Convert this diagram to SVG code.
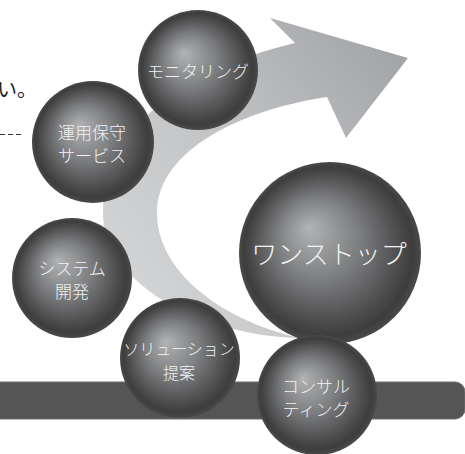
<svg xmlns="http://www.w3.org/2000/svg" width="465" height="454" viewBox="0 0 465 454">
<defs>
<radialGradient id="sph" cx="0.5" cy="0.5" r="0.5" fx="0.38" fy="0.36" fr="0">
<stop offset="0" stop-color="#b2b3b5"/>
<stop offset="0.45" stop-color="#7d7e80"/>
<stop offset="0.82" stop-color="#4b4b4c"/>
<stop offset="0.93" stop-color="#3d3d3d"/>
<stop offset="1" stop-color="#4a4a4a"/>
</radialGradient>
<linearGradient id="arr" x1="100" y1="300" x2="400" y2="60" gradientUnits="userSpaceOnUse">
<stop offset="0" stop-color="#d6d7d9"/>
<stop offset="0.5" stop-color="#c3c4c6"/>
<stop offset="1" stop-color="#a4a5a8"/>
</linearGradient>
<style>
.ball{fill:url(#sph)}
.lbl{font-family:"Noto Sans CJK JP","Noto Sans",sans-serif;font-weight:300;fill:#f2f2f2;text-anchor:middle;dominant-baseline:central}
</style>
</defs>
<rect width="465" height="454" fill="#ffffff"/>
<text x="-3" y="97" font-family="Noto Sans CJK JP, sans-serif" font-size="20" fill="#222">い。</text>
<line x1="0" y1="134.5" x2="21" y2="134.5" stroke="#333" stroke-width="1" stroke-dasharray="5 3"/>
<g id="connectors">
<path d="M300,338 C200,336 100,282 103,210 C106,130 180,70 295,43 L270,18 L408,58 L346,138 L327,97 C240,110 160,150 157,210 C155,270 220,320 300,338 Z" fill="url(#arr)"/>
</g>
<rect x="-10" y="382" width="475" height="37" rx="10" fill="#555556" stroke="#6e6e6e" stroke-width="1"/>
<g id="n-monitoring"><circle class="ball" cx="198" cy="70" r="60"/><text class="lbl" x="198" y="70" font-size="17">モニタリング</text></g>
<g id="n-unyou"><circle class="ball" cx="93" cy="142" r="61"/><text class="lbl" x="92" y="131" font-size="17">運用保守</text><text class="lbl" x="92" y="154" font-size="17">サービス</text></g>
<g id="n-system"><circle class="ball" cx="72" cy="278" r="60"/><text class="lbl" x="72" y="267" font-size="17">システム</text><text class="lbl" x="72" y="290" font-size="17">開発</text></g>
<g id="n-onestop"><circle class="ball" cx="330" cy="253" r="91"/><text class="lbl" x="329" y="252" font-size="26">ワンストップ</text></g>
<g id="n-solution"><circle class="ball" cx="180" cy="358" r="60"/><text class="lbl" x="179" y="348" font-size="16">ソリューション</text><text class="lbl" x="179" y="372" font-size="16">提案</text></g>
<g id="n-consulting"><circle class="ball" cx="317" cy="395" r="60"/><text class="lbl" x="316" y="385" font-size="17">コンサル</text><text class="lbl" x="316" y="408" font-size="17">ティング</text></g>
</svg>
